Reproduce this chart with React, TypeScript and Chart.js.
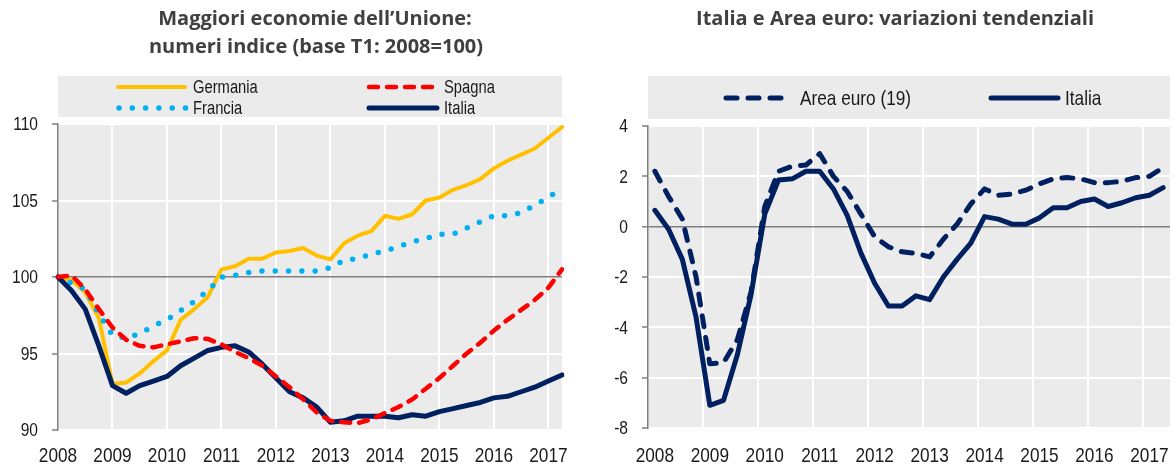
import React, { useEffect, useRef } from "react";
import { Chart, registerables } from "chart.js";

Chart.register(...registerables);

// ---------- DATA ----------
const years = ["2008", "2009", "2010", "2011", "2012", "2013", "2014", "2015", "2016", "2017"];
const quarterNames = ["T1", "T2", "T3", "T4"];
const quarterCount = 38; // T1 2008 .. T2 2017
const quarters = years.flatMap((y) => quarterNames.map((q) => `${q} ${y}`)).slice(0, quarterCount);

const germania = [100, 99.8, 99.0, 97.3, 93.0, 93.1, 93.7, 94.5, 95.2, 97.2, 97.9, 98.7, 100.5, 100.7, 101.2, 101.2, 101.6, 101.7, 101.9, 101.4, 101.15, 102.2, 102.7, 103.0, 104.0, 103.8, 104.1, 105.0, 105.2, 105.7, 106.0, 106.4, 107.1, 107.6, 108.0, 108.4, 109.1, 109.8];
const spagna = [100, 100.1, 99.2, 97.9, 96.7, 95.9, 95.5, 95.4, 95.6, 95.8, 96.0, 95.95, 95.6, 95.1, 94.7, 94.2, 93.5, 92.8, 92.0, 91.15, 90.6, 90.5, 90.45, 90.7, 91.1, 91.5, 92.0, 92.7, 93.4, 94.2, 95.0, 95.7, 96.5, 97.2, 97.85, 98.5, 99.3, 100.5];
const francia = [100, 99.6, 99.2, 97.6, 96.2, 96.0, 96.3, 96.8, 97.2, 97.8, 98.4, 99.1, 100.0, 100.1, 100.3, 100.4, 100.4, 100.4, 100.4, 100.4, 100.6, 101.1, 101.2, 101.5, 101.7, 102.0, 102.3, 102.5, 102.8, 102.8, 103.2, 103.6, 104.0, 104.0, 104.2, 104.7, 105.2, 105.8];
const italiaIndice = [100, 99.1, 97.9, 95.5, 92.9, 92.4, 92.9, 93.2, 93.5, 94.2, 94.7, 95.2, 95.4, 95.5, 95.1, 94.3, 93.4, 92.5, 92.1, 91.5, 90.5, 90.6, 90.9, 90.9, 90.9, 90.8, 91.0, 90.9, 91.2, 91.4, 91.6, 91.8, 92.1, 92.2, 92.5, 92.8, 93.2, 93.6];

const areaEuro = [2.2, 1.2, 0.3, -2.0, -5.45, -5.4, -4.5, -2.6, 0.8, 2.2, 2.4, 2.45, 2.9, 2.0, 1.4, 0.5, -0.4, -0.8, -1.0, -1.06, -1.2, -0.5, 0.1, 0.9, 1.5, 1.25, 1.3, 1.45, 1.7, 1.9, 1.95, 1.9, 1.75, 1.75, 1.8, 1.95, 2.0, 2.35];
const italiaVar = [0.65, -0.1, -1.3, -3.6, -7.1, -6.9, -5.1, -2.7, 0.5, 1.85, 1.9, 2.2, 2.2, 1.5, 0.45, -1.05, -2.25, -3.15, -3.15, -2.75, -2.9, -2.0, -1.3, -0.65, 0.4, 0.3, 0.1, 0.1, 0.35, 0.75, 0.75, 1.0, 1.1, 0.8, 0.95, 1.15, 1.25, 1.55];

const leftTitle = ["Maggiori economie dell\u2019Unione:", "numeri indice (base T1: 2008=100)"];
const rightTitle = ["Italia e Area euro: variazioni tendenziali"];
const leftTicksY = { min: 90, max: 110, step: 5, ref: 100 };
const rightTicksY = { min: -8, max: 4, step: 2, ref: 0 };

// ---------- STYLE ----------
const NARROW = '"Liberation Sans", Arial, sans-serif';
const NARROW_X = 0.82; // horizontal condensing (Arial Narrow look)
const TITLE_FONT = '"Open Sans", "DejaVu Sans", sans-serif';
const BG = "#ebebeb";
const TXT = "#1a1a1a";
const AXIS = "#808080";
const GOLD = "#ffc000";
const RED = "#ff0000";
const SKY = "#00b0f0";
const NAVY = "#002060";

type LegendItem = {
  text: string;
  color: string;
  width: number;
  dash: number[];
  cap: CanvasLineCap;
  x: number;
  len: number;
  textX: number;
  y: number;
};

function narrowText(
  ctx: CanvasRenderingContext2D,
  text: string,
  x: number,
  y: number,
  size: number,
  align: CanvasTextAlign,
  baseline: CanvasTextBaseline
) {
  ctx.save();
  ctx.translate(x, y);
  ctx.scale(NARROW_X, 1);
  ctx.font = `${size}px ${NARROW}`;
  ctx.fillStyle = TXT;
  ctx.textAlign = align;
  ctx.textBaseline = baseline;
  ctx.fillText(text, 0, 0);
  ctx.restore();
}

function yearTick(i: number) {
  const l = quarters[i];
  return l && l.startsWith("T1") ? l.slice(3) : "";
}

function makeDecor(cfg: {
  titles: { text: string; x: number; y: number }[];
  legend: LegendItem[];
  boxTop: number;
  boxBottom: number;
  legendFontSize: number;
}) {
  return {
    id: "decor",
    beforeDraw(chart: any) {
      const { ctx, chartArea: a } = chart;
      ctx.save();
      ctx.fillStyle = BG;
      ctx.fillRect(a.left, a.top, a.right - a.left, a.bottom - a.top);
      ctx.fillRect(a.left, cfg.boxTop, a.right - a.left, cfg.boxBottom - cfg.boxTop);
      ctx.restore();
    },
    afterDraw(chart: any) {
      const { ctx, chartArea: a } = chart;
      ctx.save();
      // titles
      ctx.fillStyle = "#404040";
      ctx.font = `bold 20px ${TITLE_FONT}`;
      ctx.textAlign = "center";
      ctx.textBaseline = "alphabetic";
      cfg.titles.forEach((t) => ctx.fillText(t.text, t.x, t.y));
      // legend
      cfg.legend.forEach((it) => {
        ctx.beginPath();
        ctx.strokeStyle = it.color;
        ctx.lineWidth = it.width;
        ctx.lineCap = it.cap;
        ctx.setLineDash(it.dash);
        ctx.moveTo(it.x, it.y);
        ctx.lineTo(it.x + it.len, it.y);
        ctx.stroke();
        ctx.setLineDash([]);
        narrowText(ctx, it.text, it.textX, it.y + 1, cfg.legendFontSize, "left", "middle");
      });
      // axis labels
      const xs = chart.scales.x;
      xs.ticks.forEach((_t: any, i: number) => {
        const lab = yearTick(i);
        if (lab) narrowText(ctx, lab, xs.getPixelForTick(i), 462, 21, "center", "alphabetic");
      });
      const ys = chart.scales.y;
      ys.ticks.forEach((t: any) => {
        narrowText(ctx, String(t.value), a.left - 20, ys.getPixelForValue(t.value) + 1, 19, "right", "middle");
      });
      ctx.restore();
    },
  };
}

function baseScales(opts: {
  y: { min: number; max: number; step: number; ref: number };
  xOffset: boolean;
  xHeight: number;
}) {
  return {
    x: {
      type: "category" as const,
      offset: opts.xOffset,
      afterFit: (s: any) => {
        s.height = opts.xHeight;
      },
      grid: {
        offset: opts.xOffset,
        color: (c: any) => (c.index % 4 === 0 && c.index > 0 ? "#ffffff" : "rgba(0,0,0,0)"),
        lineWidth: 2,
        drawTicks: false,
      },
      border: { display: false },
      ticks: { display: false, autoSkip: false, maxRotation: 0, minRotation: 0 },
    },
    y: {
      min: opts.y.min,
      max: opts.y.max,
      afterFit: (s: any) => {
        s.width = 58;
      },
      ticks: { display: false, stepSize: opts.y.step },
      grid: {
        color: (c: any) => (c.tick && c.tick.value === opts.y.ref ? AXIS : "#ffffff"),
        lineWidth: (c: any) => (c.tick && c.tick.value === opts.y.ref ? 1.6 : 2),
        tickColor: AXIS,
        tickLength: 6,
        tickWidth: 1.5,
      },
      border: { display: true, color: AXIS, width: 1.5 },
    },
  };
}

function LeftChart() {
  const ref = useRef<HTMLCanvasElement>(null);
  useEffect(() => {
    if (!ref.current) return;
    const legend: LegendItem[] = [
      { text: "Germania", color: GOLD, width: 4, dash: [], cap: "round", x: 118, len: 67, textX: 193, y: 87 },
      { text: "Spagna", color: RED, width: 4.5, dash: [9, 9], cap: "round", x: 369, len: 68, textX: 444, y: 87 },
      { text: "Francia", color: SKY, width: 5.5, dash: [0, 13.3], cap: "round", x: 119, len: 67, textX: 193, y: 108 },
      { text: "Italia", color: NAVY, width: 5, dash: [], cap: "round", x: 369, len: 68, textX: 444, y: 108 },
    ];
    const chart = new Chart(ref.current, {
      type: "line",
      data: {
        labels: quarters,
        datasets: [
          { label: "Spagna", data: spagna, borderColor: RED, borderWidth: 4.5, borderDash: [9, 9], borderCapStyle: "round" },
          { label: "Italia", data: italiaIndice, borderColor: NAVY, borderWidth: 5, borderCapStyle: "round" },
          { label: "Francia", data: francia, borderColor: SKY, borderWidth: 5.5, borderDash: [0, 13.3], borderCapStyle: "round" },
          { label: "Germania", data: germania, borderColor: GOLD, borderWidth: 4, borderCapStyle: "round" },
        ] as any,
      },
      options: {
        animation: false,
        responsive: false,
        layout: { padding: { top: 124, right: 28, left: 0, bottom: 0 } },
        plugins: { legend: { display: false }, tooltip: { enabled: false }, title: { display: false } },
        elements: { point: { radius: 0 }, line: { tension: 0, borderJoinStyle: "round" } },
        scales: baseScales({ y: leftTicksY, xOffset: false, xHeight: 38 }) as any,
      },
      plugins: [
        makeDecor({
          titles: [
            { text: leftTitle[0], x: 315, y: 25 },
            { text: leftTitle[1], x: 316, y: 53 },
          ],
          legend,
          boxTop: 76,
          boxBottom: 117,
          legendFontSize: 18,
        }),
      ],
    });
    return () => chart.destroy();
  }, []);
  return <canvas ref={ref} width={590} height={468} style={{ position: "absolute", left: 0, top: 0, width: 590, height: 468 }} />;
}

function RightChart() {
  const ref = useRef<HTMLCanvasElement>(null);
  useEffect(() => {
    if (!ref.current) return;
    const legend: LegendItem[] = [
      { text: "Area euro (19)", color: NAVY, width: 5, dash: [11, 11], cap: "round", x: 136, len: 60, textX: 210, y: 98 },
      { text: "Italia", color: NAVY, width: 5, dash: [], cap: "round", x: 401, len: 67, textX: 475, y: 98 },
    ];
    const chart = new Chart(ref.current, {
      type: "line",
      data: {
        labels: quarters,
        datasets: [
          { label: "Italia", data: italiaVar, borderColor: NAVY, borderWidth: 5, borderCapStyle: "round" },
          { label: "Area euro (19)", data: areaEuro, borderColor: NAVY, borderWidth: 5, borderDash: [11, 11], borderCapStyle: "round" },
        ] as any,
      },
      options: {
        animation: false,
        responsive: false,
        layout: { padding: { top: 126, right: 4, left: 0, bottom: 0 } },
        plugins: { legend: { display: false }, tooltip: { enabled: false }, title: { display: false } },
        elements: { point: { radius: 0 }, line: { tension: 0, borderJoinStyle: "round" } },
        scales: baseScales({ y: rightTicksY, xOffset: true, xHeight: 40 }) as any,
      },
      plugins: [
        makeDecor({
          titles: [{ text: rightTitle[0], x: 305, y: 25 }],
          legend,
          boxTop: 76,
          boxBottom: 119,
          legendFontSize: 21,
        }),
      ],
    });
    return () => chart.destroy();
  }, []);
  return <canvas ref={ref} width={584} height={468} style={{ position: "absolute", left: 590, top: 0, width: 584, height: 468 }} />;
}

export default function App() {
  return (
    <div style={{ position: "absolute", left: 0, top: 0, width: 1174, height: 468, background: "#ffffff", overflow: "hidden" }}>
      <LeftChart />
      <RightChart />
    </div>
  );
}
